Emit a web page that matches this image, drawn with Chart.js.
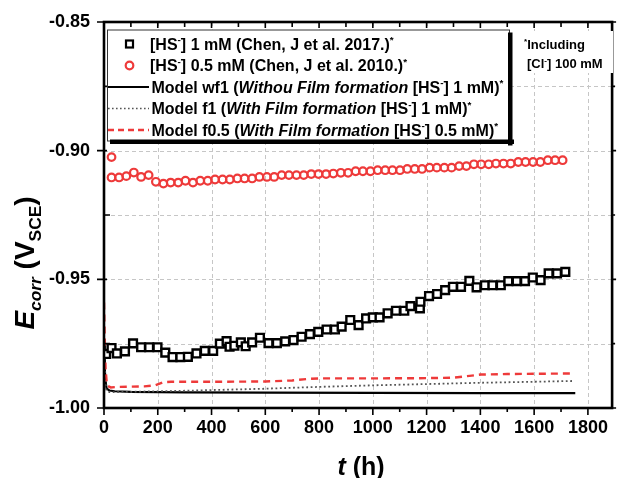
<!DOCTYPE html>
<html>
<head>
<meta charset="utf-8">
<title>Ecorr vs time</title>
<script src="https://cdn.jsdelivr.net/npm/chart.js@4.4.1/dist/chart.umd.min.js"></script>
<style>
  html, body { margin: 0; padding: 0; background: #fff; overflow: hidden; }
  canvas { display: block; }
</style>
</head>
<body>
<canvas id="ecorr-chart" width="620" height="478"></canvas>
<script>
// [HS-] 1 mM measurements (Chen 2017)
const hs1Time = [8, 28, 48, 78, 108, 138, 168, 199, 228, 255, 284, 312, 344, 375, 406,
  431, 456, 467, 485, 509, 527, 551, 580, 612, 643, 674, 705, 735, 766, 797,
  828, 859, 884, 916, 947, 975, 1000, 1025, 1055, 1086, 1117, 1140, 1175, 1177, 1209,
  1239, 1269, 1298, 1328, 1359, 1386, 1417, 1445, 1476, 1504, 1535, 1566, 1595, 1624, 1654,
  1685, 1716];
const hs1Ecorr = [-0.9790, -0.9767, -0.9788, -0.9780, -0.9749, -0.9764, -0.9764, -0.9764, -0.9785, -0.9802,
  -0.9802, -0.9801, -0.9788, -0.9778, -0.9778, -0.9750, -0.9740, -0.9762, -0.9758, -0.9745,
  -0.9760, -0.9745, -0.9727, -0.9748, -0.9748, -0.9741, -0.9736, -0.9723, -0.9713, -0.9704,
  -0.9695, -0.9695, -0.9684, -0.9658, -0.9678, -0.9652, -0.9648, -0.9648, -0.9632, -0.9622,
  -0.9622, -0.9604, -0.9613, -0.9587, -0.9565, -0.9557, -0.9542, -0.9529, -0.9529, -0.9506,
  -0.9531, -0.9523, -0.9523, -0.9523, -0.9507, -0.9507, -0.9507, -0.9493, -0.9503, -0.9477,
  -0.9477, -0.9471];

// [HS-] 0.5 mM measurements (Chen 2010)
const hs05Time = [28, 28, 56, 83, 111, 138, 166, 193, 221, 248, 276, 303, 331, 358, 386,
  413, 441, 468, 496, 523, 551, 578, 606, 633, 661, 688, 716, 743, 771, 798,
  826, 853, 881, 908, 936, 963, 991, 1018, 1046, 1073, 1101, 1128, 1156, 1183, 1211,
  1238, 1266, 1293, 1321, 1348, 1376, 1403, 1431, 1458, 1486, 1513, 1541, 1568, 1596, 1623,
  1651, 1678, 1706];
const hs05Ecorr = [-0.9025, -0.9104, -0.9104, -0.9099, -0.9085, -0.9102, -0.9095, -0.9121, -0.9128, -0.9124,
  -0.9124, -0.9117, -0.9124, -0.9117, -0.9117, -0.9112, -0.9112, -0.9112, -0.9108, -0.9108,
  -0.9108, -0.9102, -0.9102, -0.9102, -0.9095, -0.9095, -0.9095, -0.9095, -0.9091, -0.9091,
  -0.9091, -0.9089, -0.9086, -0.9086, -0.9080, -0.9080, -0.9080, -0.9076, -0.9076, -0.9076,
  -0.9076, -0.9071, -0.9071, -0.9071, -0.9066, -0.9066, -0.9066, -0.9066, -0.9060, -0.9060,
  -0.9053, -0.9053, -0.9053, -0.9050, -0.9050, -0.9050, -0.9044, -0.9044, -0.9044, -0.9044,
  -0.9037, -0.9037, -0.9037];

// model wf1: no film formation, [HS-] 1 mM
const wf1Time = [0, 3, 6, 10, 20, 40, 100, 300, 600, 1000, 1400, 1753];
const wf1Ecorr = [-0.975, -0.985, -0.990, -0.9925, -0.9932, -0.9935, -0.9937, -0.9939, -0.9940, -0.9941, -0.9942, -0.9942];

// model f1: film formation, [HS-] 1 mM
const f1Time = [0, 3, 6, 10, 20, 50, 100, 300, 600, 800, 1000, 1200, 1400, 1600, 1745];
const f1Ecorr = [-0.972, -0.985, -0.991, -0.9935, -0.9938, -0.9938, -0.9937, -0.9933, -0.9925, -0.9918, -0.9912, -0.9907, -0.9902, -0.9898, -0.9895];

// model f0.5: film formation, [HS-] 0.5 mM
const f05Time = [0, 3, 6, 10, 15, 25, 50, 100, 150, 190, 220, 250, 400, 600, 700, 760, 800, 1000, 1200, 1300, 1360, 1400, 1500, 1600, 1734];
const f05Ecorr = [-0.959, -0.975, -0.985, -0.990, -0.9915, -0.992, -0.9918, -0.9917, -0.9916, -0.9912, -0.9900, -0.9898, -0.9898, -0.9897, -0.9893, -0.9887, -0.9885, -0.9885, -0.9884, -0.9882, -0.9875, -0.9870, -0.9868, -0.9867, -0.9866];

// axis ticks
const timeMajor = [0, 200, 400, 600, 800, 1000, 1200, 1400, 1600, 1800];
const timeMinor = [100, 300, 500, 700, 900, 1100, 1300, 1500, 1700];
const ecorrMajor = [-1.00, -0.95, -0.90, -0.85];
const ecorrMinor = [-0.975, -0.925, -0.875];

const RED = '#ee3a3a';
const FONT = "'Liberation Sans', Arial, sans-serif";

function pts(xs, ys) {
  return xs.map((t, i) => ({ x: t, y: ys[i] }));
}

function fontStr(size, italic) {
  return (italic ? 'italic ' : '') + 'bold ' + size + 'px ' + FONT;
}

// text runs with italic / superscript / subscript parts
function richWidth(ctx, parts, size) {
  let w = 0;
  parts.forEach(p => {
    ctx.font = fontStr((p.sup || p.sub) ? size * 0.62 : size, p.it);
    w += ctx.measureText(p.t).width;
  });
  return w;
}

function drawRich(ctx, x, y, parts, size) {
  let cx = x;
  parts.forEach(p => {
    ctx.font = fontStr((p.sup || p.sub) ? size * 0.62 : size, p.it);
    let dy = 0;
    if (p.sup) dy = -size * 0.4;
    if (p.sub) dy = size * 0.24;
    ctx.fillText(p.t, cx, y + dy);
    cx += ctx.measureText(p.t).width;
  });
  return cx - x;
}

const legendRows = [
  { kind: 'square', parts: [{ t: '[HS' }, { t: '-', sup: true }, { t: '] 1 mM (Chen, J et al. 2017.)' }, { t: '*', sup: true }] },
  { kind: 'circle', parts: [{ t: '[HS' }, { t: '-', sup: true }, { t: '] 0.5 mM (Chen, J et al. 2010.)' }, { t: '*', sup: true }] },
  { kind: 'solid', parts: [{ t: 'Model wf1 (' }, { t: 'Withou Film formation', it: true }, { t: ' [HS' }, { t: '-', sup: true }, { t: '] 1 mM)' }, { t: '*', sup: true }] },
  { kind: 'dotted', parts: [{ t: 'Model f1 (' }, { t: 'With Film formation', it: true }, { t: ' [HS' }, { t: '-', sup: true }, { t: '] 1 mM)' }, { t: '*', sup: true }] },
  { kind: 'dashed', parts: [{ t: 'Model f0.5 (' }, { t: 'With Film formation', it: true }, { t: ' [HS' }, { t: '-', sup: true }, { t: '] 0.5 mM)' }, { t: '*', sup: true }] }
];

const framePlugin = {
  id: 'frame',
  beforeDatasetsDraw(chart) {
    const { ctx, chartArea: a, scales: { x, y } } = chart;
    ctx.save();
    ctx.strokeStyle = '#c6c6c6';
    ctx.lineWidth = 1;
    ctx.setLineDash([4, 3]);
    timeMajor.slice(1).forEach(t => {
      const px = Math.round(x.getPixelForValue(t)) + 0.5;
      ctx.beginPath(); ctx.moveTo(px, a.top); ctx.lineTo(px, a.bottom); ctx.stroke();
    });
    ecorrMajor.concat(ecorrMinor).forEach(v => {
      if (v <= -1.0 || v >= -0.85) return;
      const py = Math.round(y.getPixelForValue(v)) + 0.5;
      ctx.beginPath(); ctx.moveTo(a.left, py); ctx.lineTo(a.right, py); ctx.stroke();
    });
    ctx.restore();
  },
  afterDatasetsDraw(chart) {
    const { ctx, chartArea: a, scales: { x, y } } = chart;
    ctx.save();
    ctx.strokeStyle = '#000';
    ctx.lineWidth = 1.6;
    ctx.beginPath();
    // bottom + top ticks
    timeMajor.forEach(t => {
      const px = x.getPixelForValue(t);
      ctx.moveTo(px, a.bottom); ctx.lineTo(px, a.bottom + 7);
      ctx.moveTo(px, a.top); ctx.lineTo(px, a.top + 6);
    });
    timeMinor.forEach(t => {
      const px = x.getPixelForValue(t);
      ctx.moveTo(px, a.bottom); ctx.lineTo(px, a.bottom + 4);
      ctx.moveTo(px, a.top); ctx.lineTo(px, a.top + 5);
    });
    // left + right ticks
    ecorrMajor.forEach(v => {
      const py = y.getPixelForValue(v);
      ctx.moveTo(a.left - 7, py); ctx.lineTo(a.left + 3, py);
      ctx.moveTo(a.right, py); ctx.lineTo(a.right + 4, py);
    });
    ecorrMinor.forEach(v => {
      const py = y.getPixelForValue(v);
      ctx.moveTo(a.left, py); ctx.lineTo(a.left + 6, py);
      ctx.moveTo(a.right, py); ctx.lineTo(a.right + 3, py);
    });
    ctx.stroke();

    ctx.lineWidth = 2.6;
    ctx.strokeRect(a.left, a.top, a.right - a.left, a.bottom - a.top);

    // legend box
    const bx = 107, by = 29.5, bw = 402, bh = 111;
    ctx.fillStyle = '#fff';
    ctx.fillRect(bx, by, bw, bh);
    ctx.lineWidth = 1;
    ctx.strokeStyle = '#333';
    ctx.strokeRect(bx + 0.5, by + 0.5, bw, bh);
    ctx.fillStyle = '#000';
    ctx.fillRect(bx + 3, by + bh - 1, bw + 2, 4.5);
    ctx.fillRect(bx + bw - 1, by + 3, 4.5, bh + 2);

    ctx.textBaseline = 'alphabetic';
    ctx.textAlign = 'left';
    legendRows.forEach((row, i) => {
      const cy = 44 + i * 21.5;
      ctx.save();
      if (row.kind === 'square') {
        ctx.strokeStyle = '#000'; ctx.lineWidth = 2.2;
        ctx.strokeRect(126, cy - 3.5, 7, 7);
      } else if (row.kind === 'circle') {
        ctx.strokeStyle = RED; ctx.lineWidth = 2.2;
        ctx.beginPath(); ctx.arc(129.5, cy, 3.8, 0, Math.PI * 2); ctx.stroke();
      } else {
        ctx.beginPath();
        ctx.moveTo(108, cy); ctx.lineTo(149, cy);
        if (row.kind === 'solid') { ctx.strokeStyle = '#000'; ctx.lineWidth = 2; }
        if (row.kind === 'dotted') { ctx.strokeStyle = '#555'; ctx.lineWidth = 1.6; ctx.setLineDash([1.6, 2.4]); }
        if (row.kind === 'dashed') { ctx.strokeStyle = RED; ctx.lineWidth = 2.4; ctx.setLineDash([6, 4]); }
        ctx.stroke();
      }
      ctx.restore();
      ctx.fillStyle = '#000';
      drawRich(ctx, i < 2 ? 150 : 151.5, cy + 5.7, row.parts, 16);
    });

    // chloride note
    ctx.fillStyle = '#fff';
    ctx.fillRect(519, 31, 94, 42);
    ctx.fillStyle = '#000';
    drawRich(ctx, 524, 49, [{ t: '*', sup: true }, { t: 'Including' }], 13);
    drawRich(ctx, 527, 68, [{ t: '[Cl' }, { t: '-', sup: true }, { t: '] 100 mM' }], 13);
    ctx.restore();
  },
  afterDraw(chart) {
    const { ctx } = chart;
    ctx.save();
    ctx.fillStyle = '#000';
    ctx.textBaseline = 'alphabetic';
    ctx.textAlign = 'left';

    // y axis title, rotated
    const yParts = [{ t: 'E', it: true }, { t: 'corr', it: true, sub: true }, { t: ' (V' }, { t: 'SCE', sub: true }, { t: ')' }];
    const ySize = 28;
    const yw = richWidth(ctx, yParts, ySize);
    ctx.save();
    ctx.translate(24, 263);
    ctx.rotate(-Math.PI / 2);
    drawRich(ctx, -yw / 2, ySize * 0.36, yParts, ySize);
    ctx.restore();

    // x axis title
    const xParts = [{ t: 't', it: true }, { t: ' (h)' }];
    const xSize = 25;
    const xw = richWidth(ctx, xParts, xSize);
    drawRich(ctx, 361 - xw / 2, 475, xParts, xSize);
    ctx.restore();
  }
};

const ctx = document.getElementById('ecorr-chart').getContext('2d');
new Chart(ctx, {
  type: 'scatter',
  data: {
    datasets: [
      {
        label: '[HS-] 1 mM',
        data: pts(hs1Time, hs1Ecorr),
        pointStyle: 'rect',
        pointRadius: 5.5,
        pointBorderWidth: 2.4,
        pointBorderColor: '#000',
        pointBackgroundColor: '#fff'
      },
      {
        label: '[HS-] 0.5 mM',
        data: pts(hs05Time, hs05Ecorr),
        pointStyle: 'circle',
        pointRadius: 3.8,
        pointBorderWidth: 2.2,
        pointBorderColor: RED,
        pointBackgroundColor: 'rgba(255,255,255,0)'
      },
      {
        label: 'Model f0.5',
        data: pts(f05Time, f05Ecorr),
        showLine: true,
        pointRadius: 0,
        borderColor: RED,
        borderWidth: 2.4,
        borderDash: [7, 5]
      },
      {
        label: 'Model f1',
        data: pts(f1Time, f1Ecorr),
        showLine: true,
        pointRadius: 0,
        borderColor: '#555',
        borderWidth: 1.8,
        borderDash: [1.8, 2.6]
      },
      {
        label: 'Model wf1',
        data: pts(wf1Time, wf1Ecorr),
        showLine: true,
        pointRadius: 0,
        borderColor: '#000',
        borderWidth: 2.2
      }
    ]
  },
  options: {
    responsive: false,
    animation: false,
    devicePixelRatio: 1,
    layout: { padding: { top: 22, right: 1, left: 0, bottom: 0 } },
    plugins: {
      legend: { display: false },
      tooltip: { enabled: false }
    },
    scales: {
      x: {
        type: 'linear',
        min: 0,
        max: 1890,
        // fixed axis band, no extra room for edge labels
        afterFit: s => { s.height = 70; s.paddingLeft = 0; s.paddingRight = 0; },
        grid: { display: false, drawTicks: false },
        border: { display: false },
        ticks: {
          stepSize: 200,
          includeBounds: false,
          autoSkip: false,
          maxRotation: 0,
          padding: 9,
          color: '#000',
          font: { family: FONT, size: 18, weight: 'bold' },
          callback: v => (v % 200 === 0 ? String(v) : null)
        }
      },
      y: {
        min: -1.0,
        max: -0.85,
        afterFit: s => { s.width = 104; s.paddingTop = 0; s.paddingBottom = 0; },
        grid: { display: false, drawTicks: false },
        border: { display: false },
        ticks: {
          stepSize: 0.05,
          autoSkip: false,
          padding: 14,
          color: '#000',
          font: { family: FONT, size: 18, weight: 'bold' },
          callback: v => Number(v).toFixed(2)
        }
      }
    }
  },
  plugins: [framePlugin]
});
</script>
</body>
</html>
